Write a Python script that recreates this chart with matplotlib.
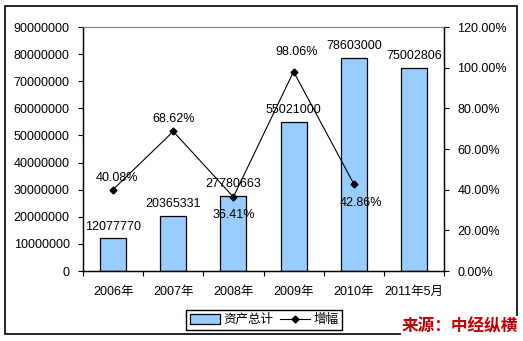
import matplotlib
matplotlib.use("Agg")
import matplotlib.pyplot as plt
from matplotlib.patches import Rectangle

plt.rcParams["font.family"] = ["Liberation Sans", "Noto Sans CJK SC", "DejaVu Sans"]
plt.rcParams["font.size"] = 9

categories = ["2006年", "2007年", "2008年", "2009年", "2010年", "2011年5月"]
assets = [12077770, 20365331, 27780663, 55021000, 78603000, 75002806]
growth = [40.08, 68.62, 36.41, 98.06, 42.86]
growth_offsets = [(3, 8), (0, 9), (0, -13), (2, 14), (5, -14)]

fig = plt.figure(figsize=(5.23, 3.41), dpi=100)
ax = fig.add_axes([83 / 523, 1 - 271 / 341, 361 / 523, 244 / 341])
ax2 = ax.twinx()

x = list(range(len(categories)))
bars = ax.bar(x, assets, width=0.43, color="#99CCFF", edgecolor="black",
              linewidth=0.9, label="资产总计", zorder=2)
for xi, v in zip(x, assets):
    ax.annotate(str(v), (xi, v), xytext=(0, 4), textcoords="offset points",
                ha="center", va="bottom", fontsize=9)

ax.set_xlim(-0.5, len(categories) - 0.5)
ax.set_ylim(0, 90000000)
ax.set_yticks(range(0, 90000001, 10000000))
ax.set_yticklabels([str(v) for v in range(0, 90000001, 10000000)])
ax.set_xticks(x)
ax.set_xticklabels(categories)
ax.set_xticks([i + 0.5 for i in range(-1, len(categories))], minor=True)
ax.tick_params(axis="x", which="major", length=0, pad=11)
ax.tick_params(axis="x", which="minor", length=3.5, width=0.8, direction="out")
ax.tick_params(axis="y", length=3.5, width=0.8, pad=6)

line, = ax2.plot(x[:len(growth)], growth, color="black", linewidth=0.8,
                 marker="D", markersize=3.5, label="增幅", zorder=3)
for xi, g, off in zip(x, growth, growth_offsets):
    ax2.annotate(f"{g:.2f}%", (xi, g), xytext=off, textcoords="offset points",
                 ha="center", va="center", fontsize=9)
ax2.set_ylim(0, 120)
ax2.set_yticks(range(0, 121, 20))
ax2.set_yticklabels([f"{v:.2f}%" for v in range(0, 121, 20)])
ax2.tick_params(axis="y", length=3.5, width=0.8, pad=6)

for a in (ax, ax2):
    a.spines["top"].set_color("#808080")
    for s in ("left", "right", "bottom"):
        a.spines[s].set_color("black")
        a.spines[s].set_linewidth(0.9)

# outer chart frame
fig.patches.append(Rectangle((5 / 523, 7 / 341), 512 / 523, 328 / 341,
                             transform=fig.transFigure, fill=False,
                             edgecolor="black", linewidth=1.2))

fig.legend([bars, line], ["资产总计", "增幅"], loc="center", ncol=2,
           bbox_to_anchor=(264 / 523, 1 - 320 / 341), frameon=True,
           fancybox=False, edgecolor="black", framealpha=1, fontsize=9,
           handlelength=2.4, handleheight=0.8, borderpad=0.3,
           columnspacing=0.5, handletextpad=0.3, borderaxespad=0)

fig.text(402 / 523, 1 - 326 / 341, "来源：中经纵横", color="#C00000",
         fontsize=12, fontweight="bold", style="italic", ha="left",
         va="center", family=["Noto Sans CJK SC"],
         bbox=dict(facecolor="white", edgecolor="none", pad=1))

fig.savefig("out.png", dpi=100)
